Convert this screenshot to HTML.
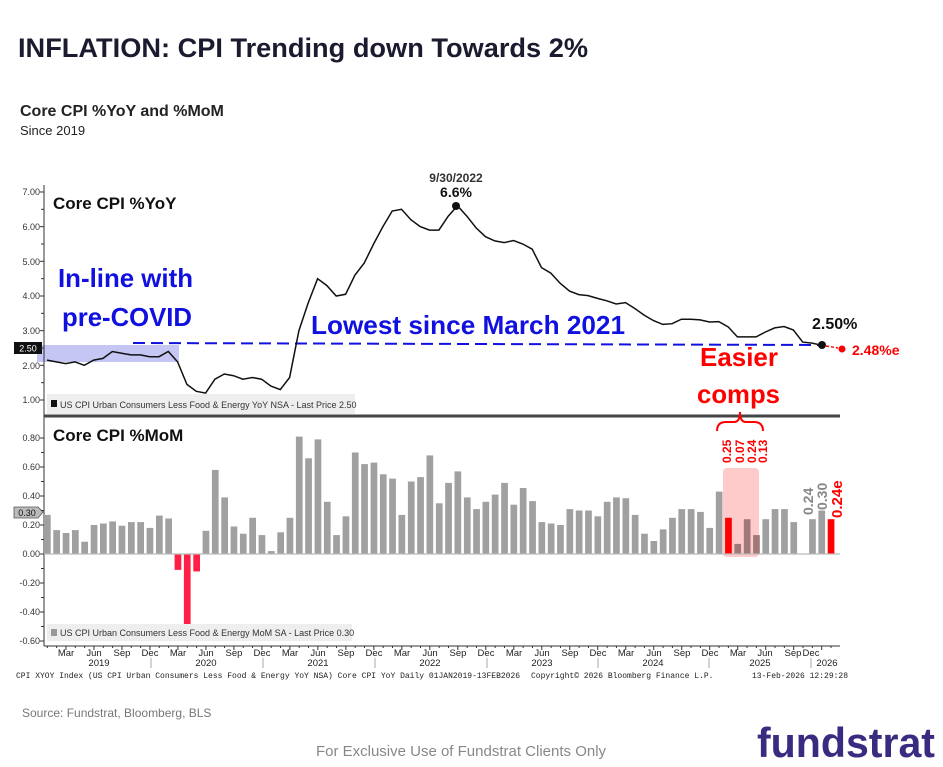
<!DOCTYPE html>
<html><head><meta charset="utf-8"><style>
html,body{margin:0;padding:0;background:#fff;}
svg{display:block;font-family:"Liberation Sans",Arial,sans-serif;}
.tk{font-size:9px;fill:#333;text-anchor:end;}
.mo{font-size:9.5px;fill:#222;text-anchor:middle;}
.ft{font-family:"Liberation Mono",monospace;font-size:8px;fill:#222;}
</style></head><body>
<svg id="s" width="943" height="767" viewBox="0 0 943 767" xmlns="http://www.w3.org/2000/svg">
<rect width="943" height="767" fill="#fff"/>
<text x="18" y="57" font-size="27" font-weight="bold" fill="#1b1b2f" textLength="570" lengthAdjust="spacingAndGlyphs">INFLATION: CPI Trending down Towards 2%</text>
<text x="20" y="116" font-size="16" font-weight="bold" fill="#222">Core CPI %YoY and %MoM</text>
<text x="20" y="135" font-size="13" fill="#222">Since 2019</text>

<!-- top panel -->
<rect x="37" y="345" width="142" height="17" fill="#c6c6f4"/>
<line x1="44" y1="185" x2="44" y2="646" stroke="#333" stroke-width="1"/>
<text class="tk" x="40" y="195">7.00</text>
<text class="tk" x="40" y="230">6.00</text>
<text class="tk" x="40" y="265">5.00</text>
<text class="tk" x="40" y="299">4.00</text>
<text class="tk" x="40" y="334">3.00</text>
<text class="tk" x="40" y="369">2.00</text>
<text class="tk" x="40" y="403">1.00</text>
<rect x="14" y="342" width="28" height="12" fill="#111"/>
<text x="28" y="351.5" font-size="9" fill="#fff" text-anchor="middle">2.50</text>
<text x="53" y="209" font-size="17" font-weight="bold" fill="#111">Core CPI %YoY</text>
<rect x="47" y="394" width="308" height="20" fill="#eee"/>
<rect x="51" y="400" width="6" height="7" fill="#111"/>
<text x="60" y="408" font-size="9" fill="#333">US CPI Urban Consumers Less Food &amp; Energy YoY NSA - Last Price 2.50</text>
<line x1="133" y1="343" x2="822" y2="345" stroke="#1212e0" stroke-width="2" stroke-dasharray="12,6"/>
<path id="yoy" fill="none" stroke="#111" stroke-width="1.5"/>
<circle cx="456" cy="206" r="4" fill="#111"/>
<circle cx="822" cy="345" r="4" fill="#111"/>
<text x="456" y="182" font-size="12" font-weight="bold" fill="#333" text-anchor="middle">9/30/2022</text>
<text x="456" y="197" font-size="14" font-weight="bold" fill="#111" text-anchor="middle">6.6%</text>
<text x="812" y="329" font-size="16" font-weight="bold" fill="#111">2.50%</text>
<line x1="826" y1="346" x2="838" y2="348" stroke="#f00" stroke-width="1.5" stroke-dasharray="3,2"/>
<circle cx="842" cy="349" r="3.5" fill="#f00"/>
<text x="852" y="355" font-size="14" font-weight="bold" fill="#f00">2.48%e</text>
<text x="58" y="287" font-size="26" font-weight="bold" fill="#1010e0" textLength="135" lengthAdjust="spacingAndGlyphs">In-line with</text>
<text x="62" y="326" font-size="26" font-weight="bold" fill="#1010e0" textLength="130" lengthAdjust="spacingAndGlyphs">pre-COVID</text>
<text x="311" y="334" font-size="26" font-weight="bold" fill="#1010e0" textLength="314" lengthAdjust="spacingAndGlyphs">Lowest since March 2021</text>
<text x="700" y="366" font-size="26" font-weight="bold" fill="#f00" textLength="78" lengthAdjust="spacingAndGlyphs">Easier</text>
<text x="697" y="403" font-size="26" font-weight="bold" fill="#f00" textLength="83" lengthAdjust="spacingAndGlyphs">comps</text>

<line x1="44" y1="416" x2="840" y2="416" stroke="#444" stroke-width="3"/>
<path d="M717 431 Q717 422 726 422 L734 422 Q740 422 740 412 Q740 422 746 422 L754 422 Q763 422 763 431" fill="none" stroke="#f00" stroke-width="2"/>

<!-- bottom panel -->
<text x="53" y="441" font-size="17" font-weight="bold" fill="#111">Core CPI %MoM</text>
<text class="tk" x="40" y="441">0.80</text>
<text class="tk" x="40" y="470">0.60</text>
<text class="tk" x="40" y="499">0.40</text>
<text class="tk" x="40" y="528">0.20</text>
<text class="tk" x="40" y="557">0.00</text>
<text class="tk" x="40" y="586">-0.20</text>
<text class="tk" x="40" y="615">-0.40</text>
<text class="tk" x="40" y="644">-0.60</text>
<path d="M14 507 L38 507 L43 512 L38 518 L14 518 Z" fill="#bbb" stroke="#555" stroke-width="0.8"/>
<text x="27" y="516" font-size="9" fill="#111" text-anchor="middle">0.30</text>
<rect x="723" y="468" width="36" height="89" rx="4" fill="#ffb3b3" opacity="0.7"/>
<g id="bars"></g>
<line x1="44" y1="554" x2="840" y2="554" stroke="#bbb" stroke-width="1.2"/>
<g font-size="12" font-weight="bold" fill="#f00">
<text transform="translate(731,463) rotate(-90)">0.25</text>
<text transform="translate(744,463) rotate(-90)">0.07</text>
<text transform="translate(756,463) rotate(-90)">0.24</text>
<text transform="translate(767,463) rotate(-90)">0.13</text>
</g>
<text transform="translate(813,515) rotate(-90)" font-size="14" font-weight="bold" fill="#888">0.24</text>
<text transform="translate(827,510) rotate(-90)" font-size="14" font-weight="bold" fill="#888">0.30</text>
<text transform="translate(842,518) rotate(-90)" font-size="15" font-weight="bold" fill="#f00">0.24e</text>
<rect x="47" y="624" width="305" height="17" fill="#eee"/>
<rect x="51" y="629" width="6" height="7" fill="#999"/>
<text x="60" y="636" font-size="9" fill="#333">US CPI Urban Consumers Less Food &amp; Energy MoM SA - Last Price 0.30</text>

<line x1="44" y1="646" x2="840" y2="646" stroke="#333" stroke-width="1"/>
<g id="xt"></g>
<g class="mo">
<text x="66" y="656">Mar</text><text x="94" y="656">Jun</text><text x="122" y="656">Sep</text><text x="150" y="656">Dec</text>
<text x="178" y="656">Mar</text><text x="206" y="656">Jun</text><text x="234" y="656">Sep</text><text x="262" y="656">Dec</text>
<text x="290" y="656">Mar</text><text x="318" y="656">Jun</text><text x="346" y="656">Sep</text><text x="374" y="656">Dec</text>
<text x="402" y="656">Mar</text><text x="430" y="656">Jun</text><text x="458" y="656">Sep</text><text x="486" y="656">Dec</text>
<text x="514" y="656">Mar</text><text x="542" y="656">Jun</text><text x="570" y="656">Sep</text><text x="598" y="656">Dec</text>
<text x="626" y="656">Mar</text><text x="654" y="656">Jun</text><text x="682" y="656">Sep</text><text x="710" y="656">Dec</text>
<text x="738" y="656">Mar</text><text x="765" y="656">Jun</text><text x="793" y="656">Sep</text><text x="811" y="656">Dec</text>
<text x="99" y="666">2019</text><text x="206" y="666">2020</text><text x="318" y="666">2021</text><text x="430" y="666">2022</text>
<text x="542" y="666">2023</text><text x="653" y="666">2024</text><text x="760" y="666">2025</text><text x="827" y="666">2026</text>
</g>
<g stroke="#aaa" stroke-width="1">
<line x1="151" y1="658" x2="151" y2="668"/><line x1="263" y1="658" x2="263" y2="668"/><line x1="375" y1="658" x2="375" y2="668"/>
<line x1="487" y1="658" x2="487" y2="668"/><line x1="598" y1="658" x2="598" y2="668"/><line x1="709" y1="658" x2="709" y2="668"/><line x1="811" y1="658" x2="811" y2="668"/>
</g>
<text class="ft" x="16" y="678">CPI XYOY Index (US CPI Urban Consumers Less Food &amp; Energy YoY NSA) Core CPI YoY Daily 01JAN2019-13FEB2026</text>
<text class="ft" x="531" y="678">Copyright© 2026 Bloomberg Finance L.P.</text>
<text class="ft" x="752" y="678">13-Feb-2026 12:29:28</text>

<text x="22" y="717" font-size="12" fill="#777">Source: Fundstrat, Bloomberg, BLS</text>
<text x="461" y="756" font-size="15" fill="#888" text-anchor="middle">For Exclusive Use of Fundstrat Clients Only</text>
<text x="757" y="757" font-size="42" font-weight="bold" fill="#3a2a80" textLength="178" lengthAdjust="spacingAndGlyphs">fundstrat</text>
</svg>
<script>
var yoy=[2.15,2.1,2.05,2.1,2.0,2.15,2.2,2.4,2.35,2.3,2.3,2.25,2.25,2.4,2.1,1.45,1.25,1.2,1.6,1.75,1.7,1.6,1.65,1.6,1.4,1.3,1.65,3.0,3.8,4.5,4.3,4.0,4.05,4.6,4.95,5.5,6.0,6.45,6.5,6.2,6.0,5.9,5.9,6.3,6.6,6.3,5.96,5.71,5.59,5.54,5.6,5.5,5.35,4.82,4.66,4.37,4.14,4.04,4.01,3.93,3.86,3.77,3.81,3.64,3.45,3.29,3.18,3.2,3.33,3.33,3.31,3.25,3.26,3.11,2.82,2.82,2.82,2.96,3.08,3.12,3.02,2.67,2.64,2.58];
var d="";yoy.forEach(function(v,i){d+=(i?"L":"M")+(47+i*9.33).toFixed(1)+" "+(400-(v-1)*34.67).toFixed(1);});
document.getElementById("yoy").setAttribute("d",d);
var mom=[.27,.165,.145,.165,.085,.20,.21,.225,.195,.22,.22,.18,.265,.245,-.11,-.49,-.12,.16,.58,.39,.19,.14,.25,.13,.02,.15,.25,.81,.66,.79,.36,.13,.26,.70,.62,.63,.55,.52,.27,.50,.53,.68,.35,.49,.57,.39,.31,.36,.41,.49,.34,.455,.365,.22,.21,.20,.31,.30,.30,.26,.36,.39,.385,.27,.14,.09,.17,.25,.31,.31,.29,.18,.43,.25,.07,.24,.13,.24,.31,.31,.22,null,.24,.30,.24];
var g="";mom.forEach(function(v,i){if(v===null)return;var x=44+i*9.33;var c="#a0a0a0";
if(v<0)c="#ff1f45";if(i==73||i==84)c="#ff0000";if(i>=74&&i<=76)c="#a07878";
var y=v>=0?554-v*145:554,h=Math.abs(v)*145;g+='<rect x="'+x.toFixed(1)+'" y="'+y.toFixed(1)+'" width="6.7" height="'+h.toFixed(1)+'" fill="'+c+'"/>';});
document.getElementById("bars").innerHTML=g;
var t="";for(var i=0;i<=84;i++){var x=44+i*9.33+3.3;t+='<line x1="'+x+'" y1="646" x2="'+x+'" y2="'+(i%3==2?650:648)+'" stroke="#333"/>';}
for(var v=1;v<=7;v+=0.5){var y=400-(v-1)*34.67;t+='<line x1="'+(v%1?41:40)+'" y1="'+y+'" x2="44" y2="'+y+'" stroke="#333"/>';}
for(var k=-6;k<=8;k++){var y=554-k*0.1*145;t+='<line x1="'+(k%2?41:40)+'" y1="'+y+'" x2="44" y2="'+y+'" stroke="#333"/>';}
document.getElementById("xt").innerHTML=t;
</script>
</body></html>
